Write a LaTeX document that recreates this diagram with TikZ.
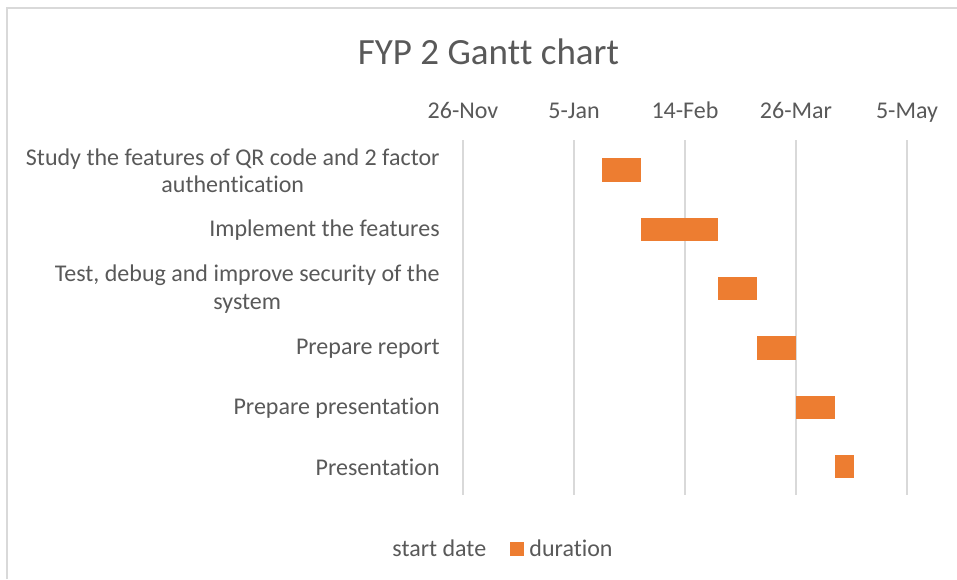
\documentclass[tikz,border=0pt]{standalone}
\usepackage{fontspec}
\setmainfont[Ligatures=NoCommon]{Carlito}
\definecolor{txt}{HTML}{595959}
\definecolor{gridc}{HTML}{D9D9D9}
\definecolor{barc}{HTML}{ED7D31}
\tikzset{
  lbl/.style={text=txt, font=\fontsize{12}{13.6}\selectfont, inner sep=0pt},
  catlbl/.style={lbl, anchor=east, align=center},
  datelbl/.style={lbl, anchor=base},
  gridline/.style={draw=gridc, line width=0.8pt},
  framel/.style={draw=gridc, line width=0.8pt},
  barbox/.style={fill=barc},
}
% day offset (from 26-Nov) to horizontal position
\newcommand{\dx}[1]{463+2.775*(#1)}
\begin{document}
\begin{tikzpicture}[x=0.5pt,y=-0.5pt]
\useasboundingbox (0,0) rectangle (957,579);
\fill[white] (0,0) rectangle (957,579);
% chart frame (left and top edges)
\draw[framel] (7,579) -- (7,8) -- (957,8);

% title (kern keeps the two t's apart)
\node[lbl, font=\fontsize{18.5}{22}\selectfont, anchor=base] (title) at (488.5,64) {FYP 2 Gant\kern0pt t chart};

% vertical gridlines and date labels
\foreach \i/\d in {0/26-Nov,1/5-Jan,2/14-Feb,3/26-Mar,4/5-May}{
  \draw[gridline] ({463+111*\i},140) -- ({463+111*\i},495);
  \node[datelbl] (d\i) at ({463+111*\i},118) {\d};
}

% task labels
\node[catlbl] (t1) at (440,171) {Study the features of QR code and 2 factor\\authentication};
\node[catlbl] (t2) at (440,230) {Implement the features};
\node[catlbl] (t3) at (440,289) {Test, debug and improve security of the\\system};
\node[catlbl] (t4) at (440,349) {Prepare report};
\node[catlbl] (t5) at (440,408) {Prepare presentation};
\node[catlbl] (t6) at (440,467.5) {Presentation};

% duration bars
\foreach \s/\l/\y in {50/14/170, 64/28/229.3, 92/14/288.5, 106/14/348, 120/14/407.3, 134/7/466.6}{
  \fill[barbox] ({\dx{\s}},{\y-11.7}) rectangle ({\dx{\s+\l}},{\y+11.7});
}

% legend
\node[lbl, anchor=base west] (lg1) at (392,556) {start date};
\fill[barbox] (510,542) rectangle (523.5,555.5);
\node[lbl, anchor=base west] (lg2) at (529,556) {duration};
\end{tikzpicture}
\end{document}
